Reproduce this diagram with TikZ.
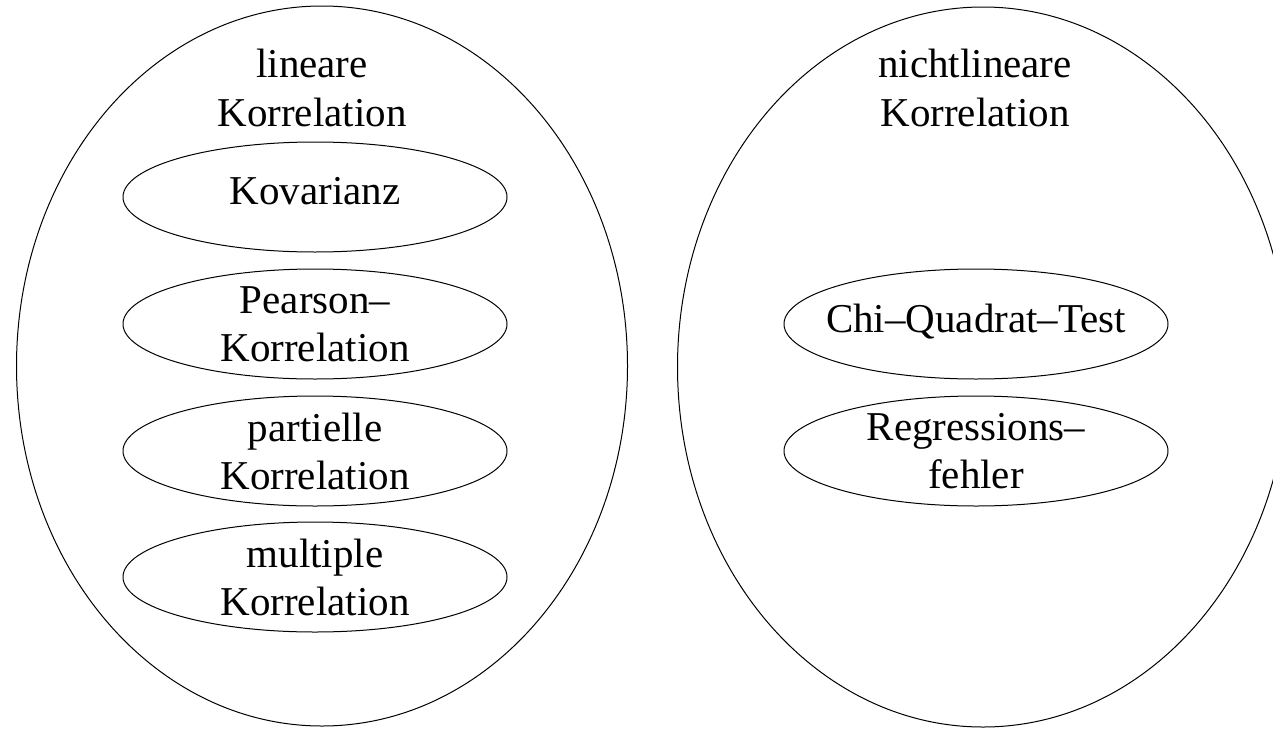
\documentclass[tikz,border=0pt]{standalone}
\usepackage{fontspec}
\setmainfont{Liberation Serif}
\usetikzlibrary{shapes.geometric}
\begin{document}
\begin{tikzpicture}[x=1pt,y=-1pt]
        \tikzstyle{big}=[ellipse, draw, line width=1pt, minimum width=611pt, minimum height=720pt, inner sep=0pt]
        \tikzstyle{small}=[ellipse, draw, line width=1pt, minimum width=384pt, minimum height=110pt,
          inner xsep=-60pt, inner ysep=-10pt, align=center, font=\fontsize{41}{48}\selectfont]
        \tikzstyle{single}=[text depth=12pt]
        \tikzstyle{title}=[align=center, font=\fontsize{41}{49}\selectfont]
        \useasboundingbox (0,0) rectangle (1273,728);
        % linke Seite
        \node[big] (lin) at (322,366) {};
        \node[title] (tlin) at (312,88) {lineare\\Korrelation};
        \node[small, single] (kov) at (315,197) {Kovarianz};
        \node[small] (pear) at (315,324) {Pearson--\\Korrelation};
        \node[small] (part) at (315,451) {partielle\\Korrelation};
        \node[small] (mult) at (315,577) {multiple\\Korrelation};
        % rechte Seite
        \node[big] (nlin) at (983,367) {};
        \node[title] (tnlin) at (975,88) {nichtlineare\\Korrelation};
        \node[small, single] (chi) at (976,324) {Chi--Quadrat--Test};
        \node[small] (regr) at (976,451) {Regressions--\\fehler};
      \end{tikzpicture}
\end{document}
